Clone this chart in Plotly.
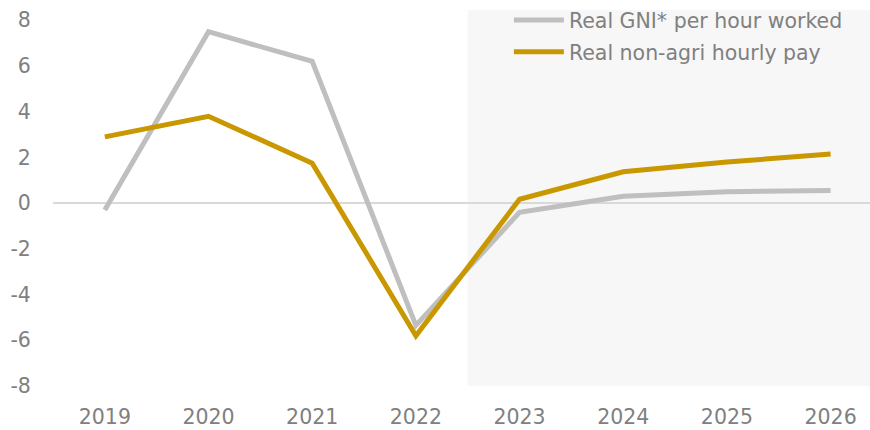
import plotly.graph_objects as go

years = ["2019", "2020", "2021", "2022", "2023", "2024", "2025", "2026"]
gni_per_hour = [-0.3, 7.5, 6.2, -5.35, -0.4, 0.3, 0.5, 0.55]
nonagri_pay = [2.9, 3.8, 1.75, -5.8, 0.17, 1.37, 1.8, 2.15]
ytick_vals = [-8, -6, -4, -2, 0, 2, 4, 6, 8]
ytick_text = ["-8", "-6", "-4", "-2", "0", "2", "4", "6", "8"]
names = ["Real GNI* per hour worked", "Real non-agri hourly pay"]

font_family = "'DejaVu Sans', sans-serif"
grey_text = "#808080"

fig = go.Figure()
fig.add_trace(go.Scatter(x=years, y=gni_per_hour, mode="lines", name=names[0],
                         legendgroup="a", line=dict(color="#bfbfbf", width=5)))
fig.add_trace(go.Scatter(x=years, y=nonagri_pay, mode="lines", name=names[1],
                         legendgroup="b", line=dict(color="#c99700", width=5)))

# Forecast shading from midpoint of 2022/2023 to right edge
fig.add_shape(type="rect", xref="x", yref="paper", x0=3.5, x1=8, y0=0, y1=1.0,
              fillcolor="#f7f7f7", line_width=0, layer="below")

fig.update_layout(
    width=870, height=430,
    margin=dict(l=53, r=0, t=10, b=44),
    paper_bgcolor="white", plot_bgcolor="white",
    font=dict(family=font_family, size=20.5, color=grey_text),
    showlegend=True,
    legend=dict(x=0.558, y=1.026, xanchor="left", yanchor="top",
                bgcolor="rgba(0,0,0,0)", font=dict(size=20.5, color=grey_text),
                itemwidth=50, tracegroupgap=2),
    xaxis=dict(type="category", range=[-0.5, 7.38], showgrid=False, zeroline=False,
               showline=False, ticks="outside", ticklen=12, tickcolor="rgba(0,0,0,0)",
               tickfont=dict(size=20.5, color=grey_text)),
    yaxis=dict(range=[-8, 8.45], tickvals=ytick_vals, ticktext=ytick_text,
               showgrid=False, zeroline=True,
               zerolinecolor="#d9d9d9", zerolinewidth=2, showline=False,
               ticks="outside", ticklen=17, tickcolor="rgba(0,0,0,0)",
               tickfont=dict(size=20.5, color=grey_text)),
)

fig.write_html("out.html")
